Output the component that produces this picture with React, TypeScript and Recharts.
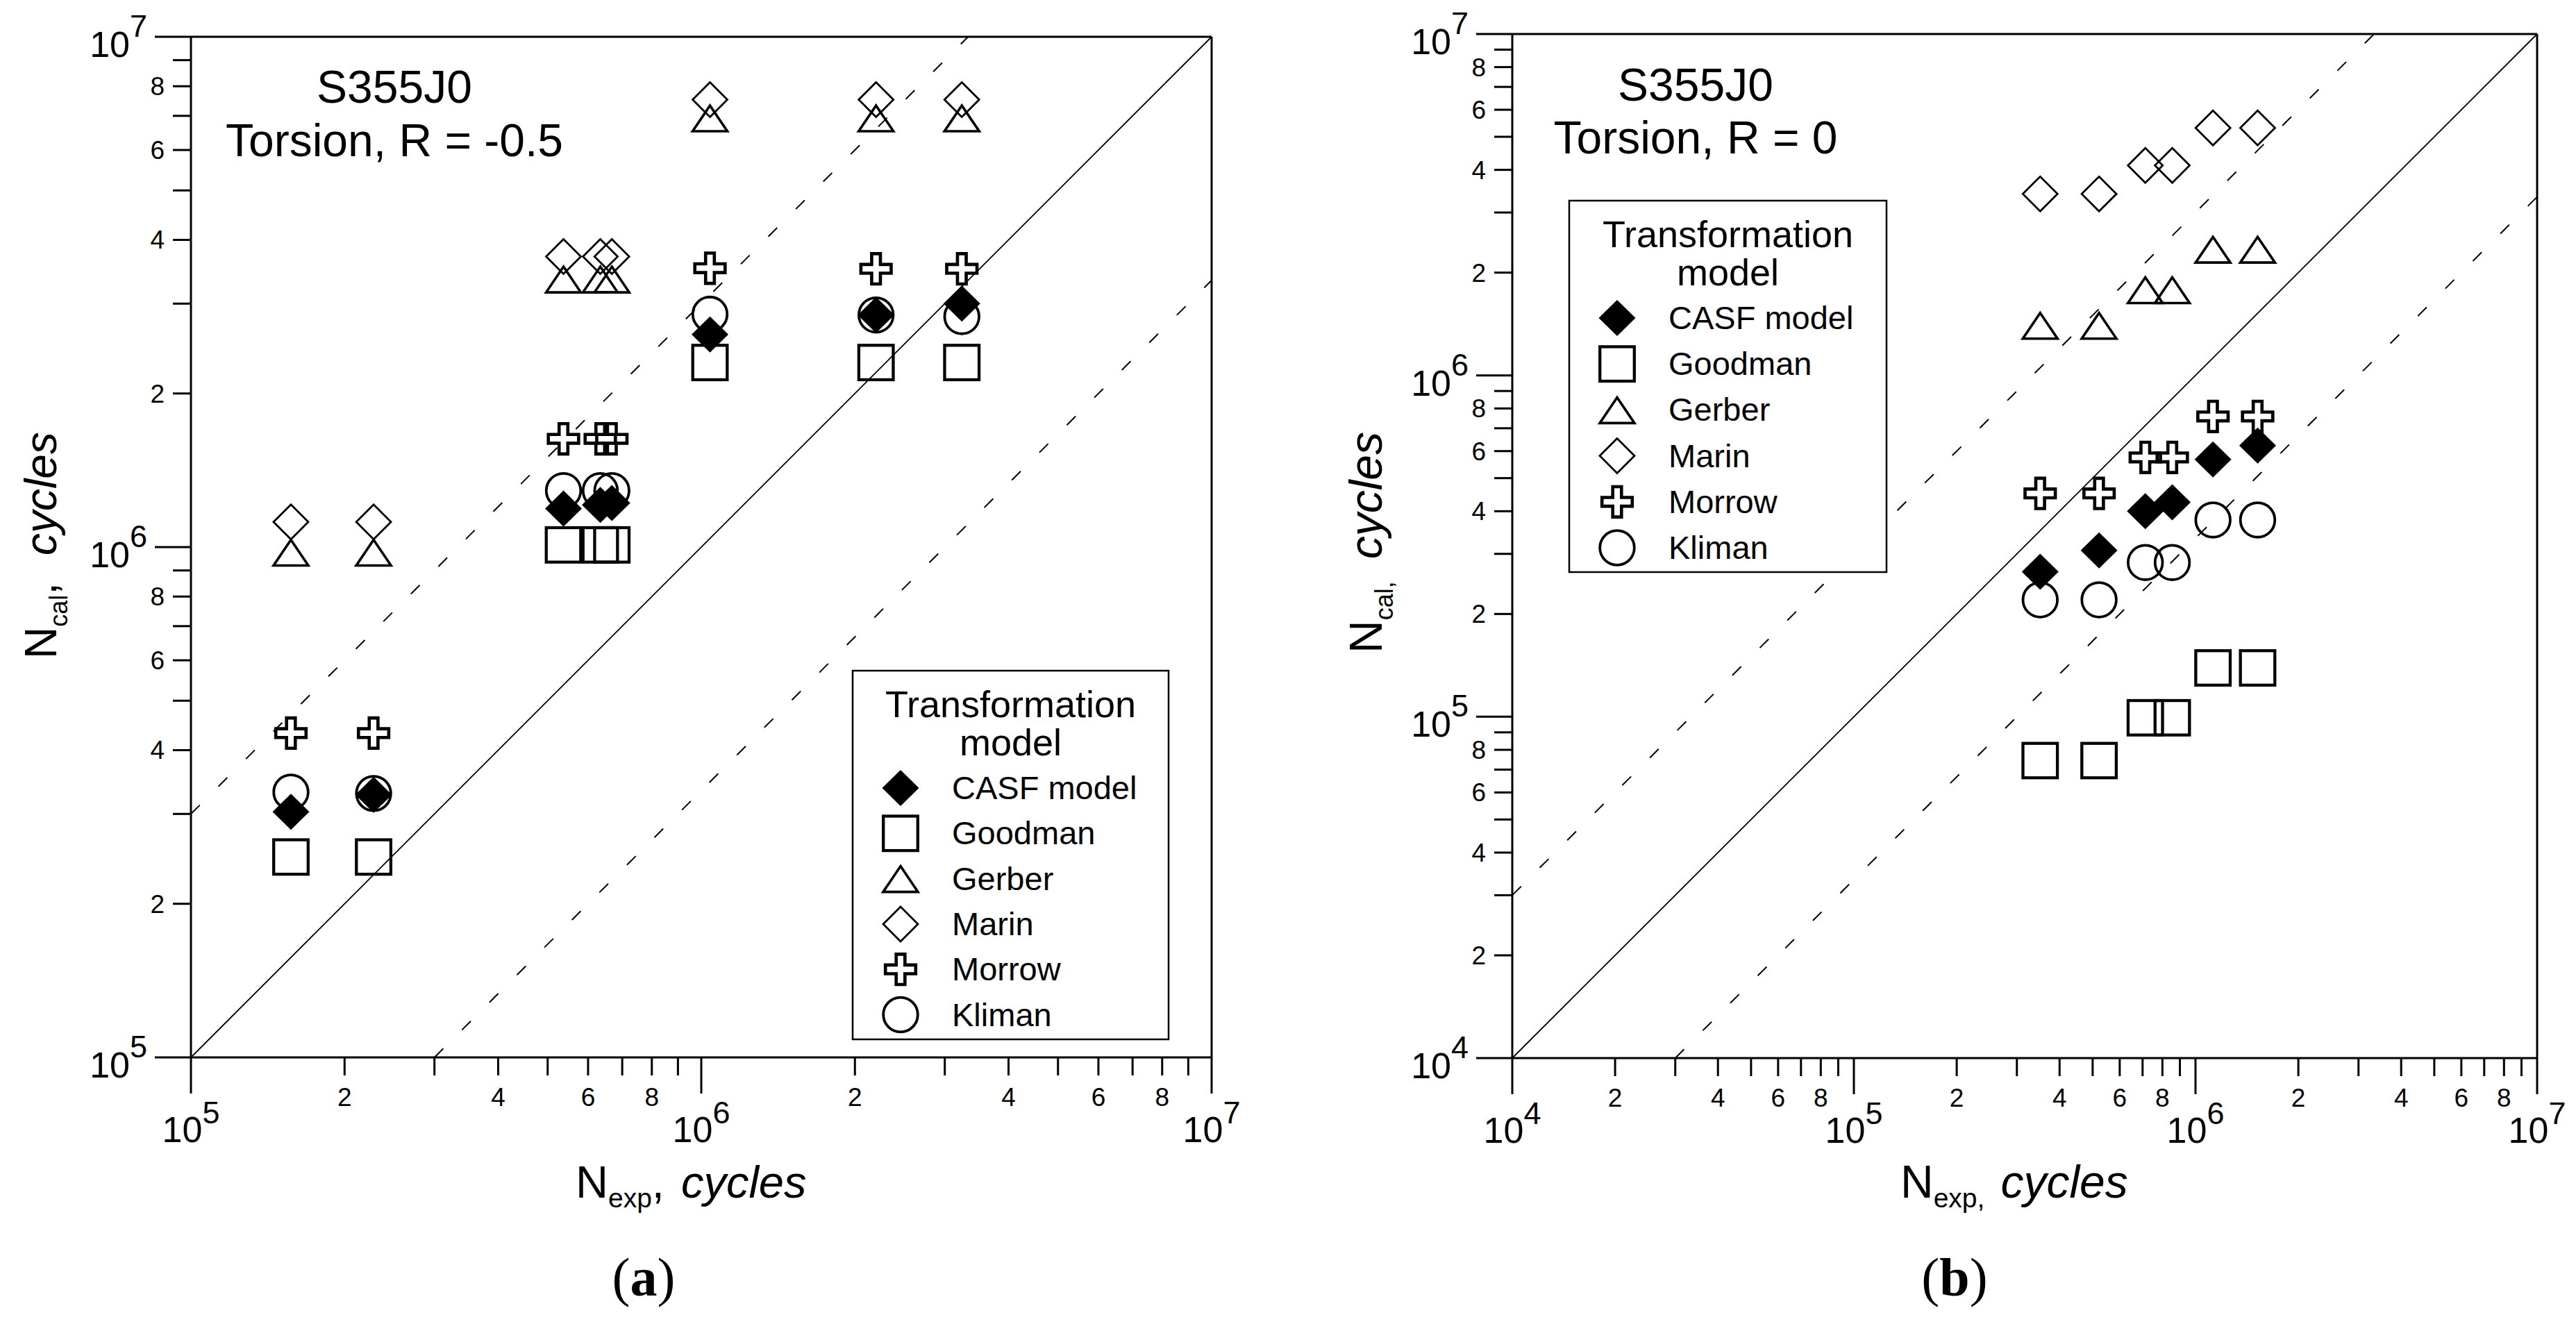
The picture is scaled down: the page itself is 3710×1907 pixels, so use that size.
import React from "react";
import { ScatterChart, Scatter, XAxis, YAxis, ReferenceLine } from "recharts";

const SANS = '"Liberation Sans", Arial, Helvetica, sans-serif';
const SERIF = '"Liberation Serif", "Times New Roman", serif';

// (a) S355J0, torsion, R = -0.5
const nExpA = [1.57e5, 2.28e5, 5.37e5, 6.34e5, 6.68e5, 1.04e6, 2.2e6, 3.24e6];
const casfA = [3.03e5, 3.27e5, 1.19e6, 1.21e6, 1.22e6, 2.61e6, 2.85e6, 3.0e6];
const goodmanA = [2.47e5, 2.47e5, 1.01e6, 1.01e6, 1.01e6, 2.3e6, 2.3e6, 2.3e6];
const gerberA = [9.77e5, 9.77e5, 3.35e6, 3.35e6, 3.35e6, 6.93e6, 6.93e6, 6.93e6];
const marinA = [1.12e6, 1.12e6, 3.71e6, 3.71e6, 3.71e6, 7.53e6, 7.53e6, 7.53e6];
const morrowA = [4.32e5, 4.32e5, 1.63e6, 1.63e6, 1.63e6, 3.52e6, 3.51e6, 3.51e6];
const klimanA = [3.31e5, 3.29e5, 1.29e6, 1.29e6, 1.29e6, 2.86e6, 2.85e6, 2.83e6];

// (b) S355J0, torsion, R = 0
const nExpB = [3.51e5, 5.22e5, 7.13e5, 8.55e5, 1.125e6, 1.52e6];
const casfB = [2.66e5, 3.07e5, 4.0e5, 4.25e5, 5.67e5, 6.23e5];
const goodmanB = [7.44e4, 7.44e4, 9.93e4, 9.93e4, 1.39e5, 1.39e5];
const gerberB = [1.4e6, 1.4e6, 1.78e6, 1.78e6, 2.34e6, 2.34e6];
const marinB = [3.4e6, 3.4e6, 4.12e6, 4.12e6, 5.31e6, 5.31e6];
const morrowB = [4.51e5, 4.51e5, 5.75e5, 5.75e5, 7.58e5, 7.58e5];
const klimanB = [2.2e5, 2.2e5, 2.83e5, 2.83e5, 3.77e5, 3.77e5];

const legendNames = ["CASF model", "Goodman", "Gerber", "Marin", "Morrow", "Kliman"];
const legendKinds = ["casf", "goodman", "gerber", "marin", "morrow", "kliman"];
const mantissas = [1, 2, 3, 4, 5, 6, 7, 8, 9];
const labelledMantissas = [2, 4, 6, 8];
const decadesA = [5, 6, 7];
const decadesB = [4, 5, 6, 7];
const ratioLines = [1, 3, 1 / 3];

function buildTicks(decades: number[]) {
  const t: number[] = [];
  decades.forEach((d, i) => {
    if (i === decades.length - 1) t.push(Math.pow(10, d));
    else mantissas.forEach((m) => t.push(m * Math.pow(10, d)));
  });
  return t;
}

function split(v: number) {
  const exp = Math.floor(Math.log10(v) + 1e-9);
  const m = Math.round(v / Math.pow(10, exp));
  return { exp, m };
}

function Marker({ kind, cx, cy }: { kind: string; cx: number; cy: number }) {
  switch (kind) {
    case "casf":
      return <polygon points={`${cx},${cy - 26} ${cx + 26.5},${cy} ${cx},${cy + 26} ${cx - 26.5},${cy}`} fill="#000" />;
    case "goodman":
      return <rect x={cx - 24.8} y={cy - 24.8} width={49.6} height={49.6} fill="none" stroke="#000" strokeWidth={4.3} />;
    case "gerber":
      return (
        <polygon
          points={`${cx},${cy - 18} ${cx + 25},${cy + 19} ${cx - 25},${cy + 19}`}
          fill="none"
          stroke="#000"
          strokeWidth={3.6}
        />
      );
    case "marin":
      return <polygon points={`${cx},${cy - 25} ${cx + 25},${cy} ${cx},${cy + 25} ${cx - 25},${cy}`} fill="none" stroke="#000" strokeWidth={2.8} />;
    case "morrow": {
      const a = 21.8;
      const b = 6.3;
      const d = `M${cx - b},${cy - a}H${cx + b}V${cy - b}H${cx + a}V${cy + b}H${cx + b}V${cy + a}H${cx - b}V${cy + b}H${cx - a}V${cy - b}H${cx - b}Z`;
      return <path d={d} fill="none" stroke="#000" strokeWidth={4.6} />;
    }
    default:
      return <circle cx={cx} cy={cy} r={24.8} fill="none" stroke="#000" strokeWidth={3.8} />;
  }
}

const XTick = (props: any) => {
  const { x, y, payload } = props;
  const { exp, m } = split(payload.value);
  if (m === 1) {
    return (
      <g>
        <line x1={x} x2={x} y1={y} y2={y + 52} stroke="#000" strokeWidth={3} />
        <text x={x} y={y + 122} textAnchor="middle" fontFamily={SANS} fontSize={52} fill="#000">
          10
          <tspan dy={-27} fontSize={45}>{exp}</tspan>
        </text>
      </g>
    );
  }
  return (
    <g>
      <line x1={x} x2={x} y1={y} y2={y + 26} stroke="#000" strokeWidth={3} />
      {labelledMantissas.includes(m) && (
        <text x={x} y={y + 70} textAnchor="middle" fontFamily={SANS} fontSize={37} fill="#000">
          {m}
        </text>
      )}
    </g>
  );
};

const YTick = (props: any) => {
  const { x, y, payload } = props;
  const { exp, m } = split(payload.value);
  if (m === 1) {
    return (
      <g>
        <line x1={x - 52} x2={x} y1={y} y2={y} stroke="#000" strokeWidth={3} />
        <text x={x - 63} y={y + 29} textAnchor="end" fontFamily={SANS} fontSize={52} fill="#000">
          10
          <tspan dy={-29} fontSize={45}>{exp}</tspan>
        </text>
      </g>
    );
  }
  return (
    <g>
      <line x1={x - 26} x2={x} y1={y} y2={y} stroke="#000" strokeWidth={3} />
      {labelledMantissas.includes(m) && (
        <text x={x - 38} y={y + 13} textAnchor="end" fontFamily={SANS} fontSize={37} fill="#000">
          {m}
        </text>
      )}
    </g>
  );
};

type Series = { kind: string; values: number[] };

function Panel({ width, margin, decades, nExp, series }: { width: number; margin: any; decades: number[]; nExp: number[]; series: Series[] }) {
  const ticks = buildTicks(decades);
  const lo = ticks[0];
  const hi = ticks[ticks.length - 1];
  return (
    <ScatterChart width={width} height={1907} margin={margin}>
      <XAxis
        type="number"
        dataKey="x"
        scale="log"
        domain={[lo, hi]}
        allowDataOverflow
        ticks={ticks}
        interval={0}
        tickSize={0}
        tickMargin={0}
        tickLine={false}
        tick={(p: any) => <XTick {...p} />}
        axisLine={{ stroke: "#000", strokeWidth: 3 }}
        height={200}
      />
      <YAxis
        type="number"
        dataKey="y"
        scale="log"
        domain={[lo, hi]}
        allowDataOverflow
        ticks={ticks}
        interval={0}
        tickSize={0}
        tickMargin={0}
        tickLine={false}
        tick={(p: any) => <YTick {...p} />}
        axisLine={{ stroke: "#000", strokeWidth: 3 }}
        width={200}
      />
      {ratioLines.map((r) => (
        <ReferenceLine
          key={r}
          segment={r >= 1 ? [{ x: lo, y: lo * r }, { x: hi / r, y: hi }] : [{ x: lo / r, y: lo }, { x: hi, y: hi * r }]}
          stroke="#000"
          strokeWidth={r === 1 ? 1.8 : 2}
          strokeDasharray={r === 1 ? undefined : "18 38"}
          ifOverflow="visible"
        />
      ))}
      <ReferenceLine y={hi} stroke="#000" strokeWidth={3} ifOverflow="visible" />
      <ReferenceLine x={hi} stroke="#000" strokeWidth={3} ifOverflow="visible" />
      {series.map((s) => (
        <Scatter
          key={s.kind}
          name={s.kind}
          data={nExp.map((x, i) => ({ x, y: s.values[i] }))}
          isAnimationActive={false}
          shape={(p: any) => <Marker kind={s.kind} cx={p.cx} cy={p.cy} />}
        />
      ))}
    </ScatterChart>
  );
}

function LegendBox({ x, y, w, h, step }: { x: number; y: number; w: number; h: number; step: number }) {
  return (
    <g>
      <rect x={x} y={y} width={w} height={h} fill="#fff" stroke="#000" strokeWidth={2.5} />
      <text x={x + w / 2} y={y + 67} textAnchor="middle" fontSize={54}>Transformation</text>
      <text x={x + w / 2} y={y + 122} textAnchor="middle" fontSize={54}>model</text>
      {legendKinds.map((k, i) => {
        const cy = y + 169 + i * step;
        return (
          <g key={k}>
            <Marker kind={k} cx={x + 69} cy={cy} />
            <text x={x + 143} y={cy + 16} fontSize={47}>{legendNames[i]}</text>
          </g>
        );
      })}
    </g>
  );
}

function Overlay() {
  return (
    <svg width={3710} height={1907} style={{ position: "absolute", left: 0, top: 0, pointerEvents: "none" }}>
      <g fontFamily={SANS} fill="#000">
        <text x={568} y={148} textAnchor="middle" fontSize={66}>S355J0</text>
        <text x={568} y={225} textAnchor="middle" fontSize={66}>Torsion, R = -0.5</text>
        <text x={2442} y={145} textAnchor="middle" fontSize={66}>S355J0</text>
        <text x={2442} y={221} textAnchor="middle" fontSize={66}>Torsion, R = 0</text>

        <LegendBox x={1228} y={966} w={455} h={531} step={65.3} />
        <LegendBox x={2260} y={289} w={457} h={535} step={66.2} />

        <text x={829} y={1725} fontSize={65}>
          N<tspan fontSize={39} dy={14}>exp</tspan>
          <tspan dy={-14}>,</tspan>
          <tspan dx={24} fontStyle="italic">cycles</tspan>
        </text>
        <text x={2737} y={1725} fontSize={66}>
          N<tspan fontSize={39} dy={14}>exp,</tspan>
          <tspan dy={-14} dx={23} fontStyle="italic">cycles</tspan>
        </text>
        <text transform="translate(81 949) rotate(-90)" fontSize={64}>
          N<tspan fontSize={36} dy={16}>cal</tspan>
          <tspan dy={-16}>,</tspan>
          <tspan dx={39} fontStyle="italic">cycles</tspan>
        </text>
        <text transform="translate(1990 941) rotate(-90)" fontSize={66}>
          N<tspan fontSize={36} dy={16}>cal,</tspan>
          <tspan dy={-16} dx={32} fontStyle="italic">cycles</tspan>
        </text>
      </g>
      <g fontFamily={SERIF} fill="#000">
        <text x={927} y={1866} textAnchor="middle" fontSize={78}>
          (<tspan fontWeight="bold">a</tspan>)
        </text>
        <text x={2815} y={1866} textAnchor="middle" fontSize={78}>
          (<tspan fontWeight="bold">b</tspan>)
        </text>
      </g>
    </svg>
  );
}

export default function App() {
  const seriesA: Series[] = [
    { kind: "goodman", values: goodmanA },
    { kind: "gerber", values: gerberA },
    { kind: "marin", values: marinA },
    { kind: "morrow", values: morrowA },
    { kind: "kliman", values: klimanA },
    { kind: "casf", values: casfA },
  ];
  const seriesB: Series[] = [
    { kind: "goodman", values: goodmanB },
    { kind: "gerber", values: gerberB },
    { kind: "marin", values: marinB },
    { kind: "morrow", values: morrowB },
    { kind: "kliman", values: klimanB },
    { kind: "casf", values: casfB },
  ];
  return (
    <div style={{ position: "absolute", left: 0, top: 0, width: 3710, height: 1907, background: "#fff", fontFamily: SANS }}>
      <div style={{ position: "absolute", left: 0, top: 0 }}>
        <Panel width={1800} margin={{ top: 53, right: 55, bottom: 184, left: 75 }} decades={decadesA} nExp={nExpA} series={seriesA} />
      </div>
      <div style={{ position: "absolute", left: 1900, top: 0 }}>
        <Panel width={1810} margin={{ top: 49, right: 56, bottom: 183, left: 78 }} decades={decadesB} nExp={nExpB} series={seriesB} />
      </div>
      <Overlay />
    </div>
  );
}
